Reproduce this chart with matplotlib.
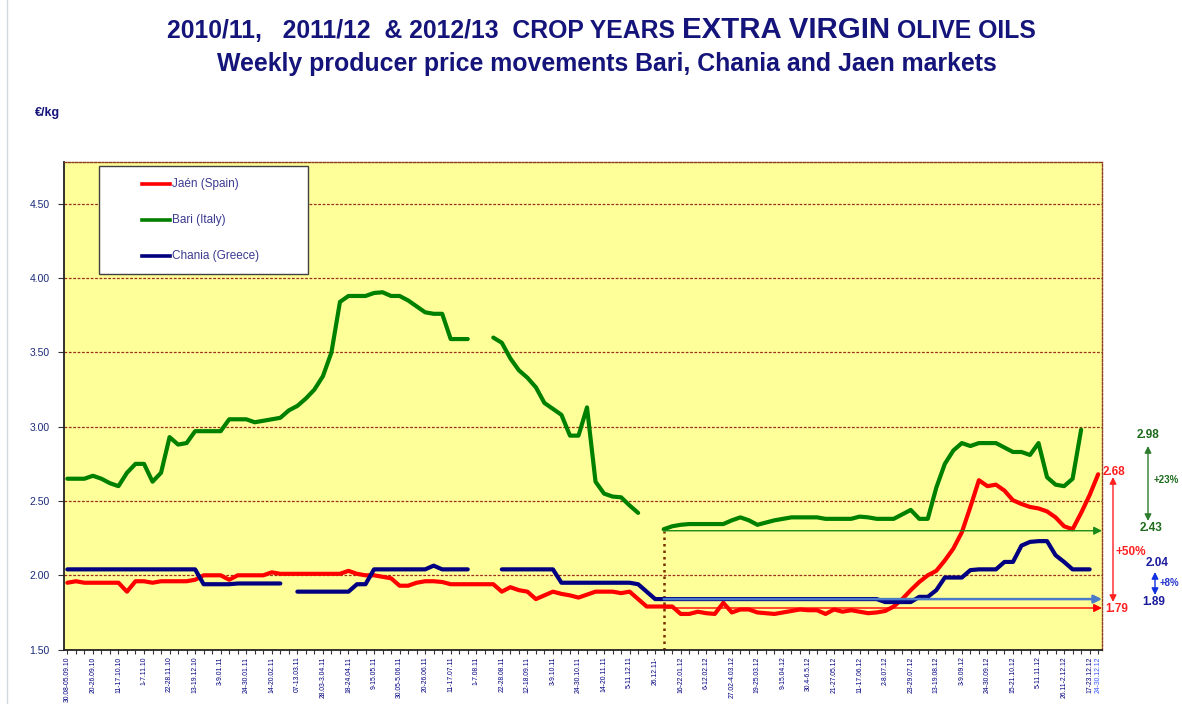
import numpy as np
import matplotlib
matplotlib.use("Agg")
import matplotlib.pyplot as plt
from matplotlib.lines import Line2D
from matplotlib.patches import Rectangle, FancyArrowPatch

nan = np.nan

# ---------------- data ----------------
jaen = [1.95, 1.96, 1.95, 1.95, 1.95, 1.95, 1.95, 1.89, 1.96, 1.96,
        1.95, 1.96, 1.96, 1.96, 1.96, 1.97, 2.00, 2.00, 2.00, 1.97,
        2.00, 2.00, 2.00, 2.00, 2.02, 2.01, 2.01, 2.01, 2.01, 2.01,
        2.01, 2.01, 2.01, 2.03, 2.01, 2.00, 2.00, 1.99, 1.98, 1.93,
        1.93, 1.95, 1.96, 1.96, 1.955, 1.94, 1.94, 1.94, 1.94, 1.94,
        1.94, 1.89, 1.92, 1.90, 1.89, 1.84, 1.865, 1.89, 1.875, 1.865,
        1.85, 1.87, 1.89, 1.89, 1.89, 1.88, 1.89, 1.84, 1.79, 1.79,
        1.79, 1.79, 1.74, 1.74, 1.755, 1.745, 1.74, 1.815, 1.75, 1.77,
        1.77, 1.75, 1.745, 1.74, 1.75, 1.76, 1.77, 1.765, 1.765, 1.74,
        1.77, 1.755, 1.765, 1.755, 1.745, 1.75, 1.76, 1.79, 1.84, 1.90,
        1.955, 2.00, 2.03, 2.10, 2.18, 2.29, 2.46, 2.64, 2.60, 2.61,
        2.57, 2.505, 2.48, 2.46, 2.45, 2.43, 2.39, 2.33, 2.31, 2.42,
        2.54, 2.68]

bari = [2.65, 2.65, 2.65, 2.67, 2.65, 2.62, 2.60, 2.69, 2.75, 2.75,
        2.63, 2.69, 2.93, 2.88, 2.89, 2.97, 2.97, 2.97, 2.97, 3.05,
        3.05, 3.05, 3.03, 3.04, 3.05, 3.06, 3.11, 3.14, 3.19, 3.25,
        3.34, 3.50, 3.84, 3.88, 3.88, 3.88, 3.90, 3.905, 3.88, 3.88,
        3.85, 3.81, 3.77, 3.76, 3.76, 3.59, 3.59, 3.59, nan, nan,
        3.60, 3.565, 3.46, 3.38, 3.33, 3.265, 3.16, 3.12, 3.08, 2.94,
        2.94, 3.13, 2.63, 2.55, 2.53, 2.525, 2.47, 2.42, nan, nan,
        2.31, 2.33, 2.34, 2.345, 2.345, 2.345, 2.345, 2.345, 2.37, 2.39,
        2.37, 2.34, 2.355, 2.37, 2.38, 2.39, 2.39, 2.39, 2.39, 2.38,
        2.38, 2.38, 2.38, 2.395, 2.39, 2.38, 2.38, 2.38, 2.41, 2.44,
        2.38, 2.38, 2.59, 2.75, 2.84, 2.89, 2.87, 2.89, 2.89, 2.89,
        2.86, 2.83, 2.83, 2.81, 2.89, 2.66, 2.61, 2.60, 2.65, 2.98,
        nan, nan]

chania = [2.04, 2.04, 2.04, 2.04, 2.04, 2.04, 2.04, 2.04, 2.04, 2.04,
          2.04, 2.04, 2.04, 2.04, 2.04, 2.04, 1.94, 1.94, 1.94, 1.94,
          1.945, 1.945, 1.945, 1.945, 1.945, 1.945, nan, 1.89, 1.89, 1.89,
          1.89, 1.89, 1.89, 1.89, 1.94, 1.94, 2.04, 2.04, 2.04, 2.04,
          2.04, 2.04, 2.04, 2.065, 2.04, 2.04, 2.04, 2.04, nan, nan,
          nan, 2.04, 2.04, 2.04, 2.04, 2.04, 2.04, 2.04, 1.95, 1.95,
          1.95, 1.95, 1.95, 1.95, 1.95, 1.95, 1.95, 1.94, 1.89, 1.84,
          1.84, 1.84, 1.84, 1.84, 1.84, 1.84, 1.84, 1.84, 1.84, 1.84,
          1.84, 1.84, 1.84, 1.84, 1.84, 1.84, 1.84, 1.84, 1.84, 1.84,
          1.84, 1.84, 1.84, 1.84, 1.84, 1.84, 1.82, 1.82, 1.82, 1.82,
          1.855, 1.855, 1.90, 1.985, 1.985, 1.985, 2.035, 2.04, 2.04, 2.04,
          2.09, 2.09, 2.20, 2.225, 2.23, 2.23, 2.135, 2.09, 2.04, 2.04,
          2.04, nan]

tick_labels = ["30.08-05.09.10", "20-26.09.10", "11-17.10.10", "1-7.11.10",
               "22-28.11.10", "13-19.12.10", "3-9.01.11", "24-30.01.11",
               "14-20.02.11", "07-13.03.11", "28.03-3.04.11", "18-24.04.11",
               "9-15.05.11", "30.05-5.06.11", "20-26.06.11", "11-17.07.11",
               "1-7.08.11", "22-28.08.11", "12-18.09.11", "3-9.10.11",
               "24-30.10.11", "14-20.11.11", "5-11.12.11", "26.12.11-",
               "16-22.01.12", "6-12.02.12", "27.02-4.03.12", "19-25.03.12",
               "9-15.04.12", "30.4-6.5.12", "21-27.05.12", "11-17.06.12",
               "2-8.07.12", "23-29.07.12", "13-19.08.12", "3-9.09.12",
               "24-30.09.12", "15-21.10.12", "5-11.11.12", "26.11-2.12.12",
               "17-23.12.12", "24-30.12.12"]
tick_positions = list(range(0, 121, 3)) + [121]

series_names = ["Jaén (Spain)", "Bari (Italy)", "Chania (Greece)"]
series_colors = ["#FF0000", "#008000", "#000080"]

new_year_start = 70          # first week of the 2012/13 comparison
ref_levels = [2.30, 1.78, 1.84]   # Bari, Jaén, Chania reference arrows

# ---------------- figure ----------------
W, H = 1182, 704
fig = plt.figure(figsize=(W / 100, H / 100), dpi=100)
fig.patch.set_facecolor("white")

def fx(x):
    return x / W

def fy(y):
    return 1 - y / H

sans = ["Liberation Sans", "DejaVu Sans"]

L, R, T, B = 63.5, 1102, 161.5, 649.6
ax = fig.add_axes([fx(L), fy(B), fx(R) - fx(L), fy(T) - fy(B)])
ax.set_facecolor("#FFFF99")

x = np.arange(len(jaen))
for vals, name, col in zip([jaen, bari, chania], series_names, series_colors):
    ax.plot(x, vals, color=col, lw=3.0, solid_joinstyle="round",
            solid_capstyle="round", zorder=3, label=name)

ax.set_xlim(-0.45, 121.45)
ax.set_ylim(1.5, 4.785)
yt = np.arange(1.5, 4.51, 0.5)
ax.set_yticks(yt)
ax.set_yticklabels([f"{v:.2f}" for v in yt], fontsize=7.5, color="#1A2A7A",
                   family=sans)
for v in yt[1:]:
    ax.axhline(v, color="#9A3020", lw=0.9, ls=(0, (2.2, 1.3)), zorder=1)

ax.set_xticks(tick_positions)
ax.set_xticklabels(tick_labels, rotation=90, fontsize=4.9, color="#000080",
                   family=sans)
ax.get_xticklabels()[-1].set_color("#3355FF")
ax.set_xticks(x, minor=True)
ax.tick_params(axis="x", which="both", length=3, width=0.8, color="#333333",
               direction="out", pad=2)
ax.tick_params(axis="y", length=4, width=0.8, color="#333333", pad=6)

for s in ["left", "bottom"]:
    ax.spines[s].set_color("#222222")
    ax.spines[s].set_linewidth(1.3)
for s in ["top", "right"]:
    ax.spines[s].set_color("#8B3A1A")
    ax.spines[s].set_linestyle((0, (1.5, 1.2)))
    ax.spines[s].set_linewidth(1.0)

# vertical start line of the new crop year
ax.plot([new_year_start, new_year_start], [1.5, ref_levels[0]], color="#7A2E00",
        lw=1.8, ls=(0, (1, 1.6)), zorder=2)

# horizontal reference arrows
for lvl, col, lw in zip(ref_levels, ["#1A8A1A", "#FF0000", "#4A7AC8"], [1.0, 1.0, 1.8]):
    ax.annotate("", xy=(121.45, lvl), xytext=(new_year_start, lvl),
                arrowprops=dict(arrowstyle="-|>", color=col, lw=lw,
                                mutation_scale=12, shrinkA=0, shrinkB=0),
                annotation_clip=False, zorder=4)

# ---------------- legend box ----------------
fig.add_artist(Rectangle((fx(99), fy(274)), fx(308) - fx(99), fy(166) - fy(274),
                         transform=fig.transFigure, facecolor="white",
                         edgecolor="#404040", lw=1.0, zorder=5))
for yy, name, col in zip([184, 220, 256], series_names, series_colors):
    fig.add_artist(Line2D([fx(142), fx(170)], [fy(yy), fy(yy)], color=col, lw=2.6,
                          transform=fig.transFigure, zorder=6))
    fig.text(fx(172), fy(yy), name, fontsize=8.5, color="#3A3A90", va="center",
             ha="left", family=sans, zorder=6)

# ---------------- axis unit ----------------
fig.text(fx(35), fy(116), "€/kg", fontsize=9, fontweight="bold", color="#14147A",
         family=sans, va="baseline", ha="left")

# left thin frame line
fig.add_artist(Line2D([fx(7), fx(7)], [0, 1], color="#D0D8E2", lw=1.0,
                      transform=fig.transFigure))

# ---------------- right-side annotations ----------------
def vtext(xp, yp, s, col, ha="left", size=8.5):
    fig.text(fx(xp), fy(yp), s, fontsize=size, fontweight="bold", color=col,
             ha=ha, va="center", family=sans)

def varrow(xp, y1, y2, col):
    fig.add_artist(FancyArrowPatch((fx(xp), fy(y1)), (fx(xp), fy(y2)),
                                   transform=fig.transFigure, arrowstyle="<|-|>",
                                   mutation_scale=10, color=col, lw=1.0,
                                   shrinkA=0, shrinkB=0))

red_c, green_c, blue_c = "#FF2020", "#1B6B1B", "#1A1A9C"
vtext(1103, 472, "2.68", red_c)
varrow(1113, 477, 602, "#FF2020")
vtext(1115, 552, "+50%", red_c)
vtext(1105, 609, "1.79", red_c)

vtext(1148, 435, "2.98", green_c, ha="center")
varrow(1148, 446, 521, "#2E7D2E")
vtext(1154, 480, "+23%", green_c, size=7)
vtext(1151, 528, "2.43", green_c, ha="center")

vtext(1157, 563, "2.04", blue_c, ha="center")
varrow(1155, 572, 595, "#1030E0")
vtext(1160, 583, "+8%", "#2233CC", size=7)
vtext(1154, 602, "1.89", blue_c, ha="center")

# ---------------- title ----------------
fig.canvas.draw()
renderer = fig.canvas.get_renderer()
title_col = "#14147A"

def fitted_line(pieces, cx, base_y, target_w):
    texts = [fig.text(0, 0, s, fontsize=fs, fontweight="bold", color=title_col,
                      family=sans, va="baseline", ha="left") for s, fs in pieces]
    ws = [t.get_window_extent(renderer).width for t in texts]
    gap = 0.28 * min(fs for _, fs in pieces) * 100 / 72
    scale = target_w / (sum(ws) + gap * (len(texts) - 1))
    for t, (s, fs) in zip(texts, pieces):
        t.set_fontsize(fs * scale)
    ws = [t.get_window_extent(renderer).width for t in texts]
    gap *= scale
    total = sum(ws) + gap * (len(texts) - 1)
    xs = cx - total / 2
    for t, w in zip(texts, ws):
        t.set_position((fx(xs), fy(base_y)))
        xs += w + gap

fitted_line([("2010/11,   2011/12  & 2012/13  CROP YEARS", 16),
             ("EXTRA VIRGIN", 19), ("OLIVE OILS", 16)], 601.5, 38.5, 869)
fitted_line([("Weekly producer price movements Bari, Chania and Jaen markets", 16)],
            607, 71.5, 780)

fig.savefig("out.png", dpi=100, facecolor="white")
